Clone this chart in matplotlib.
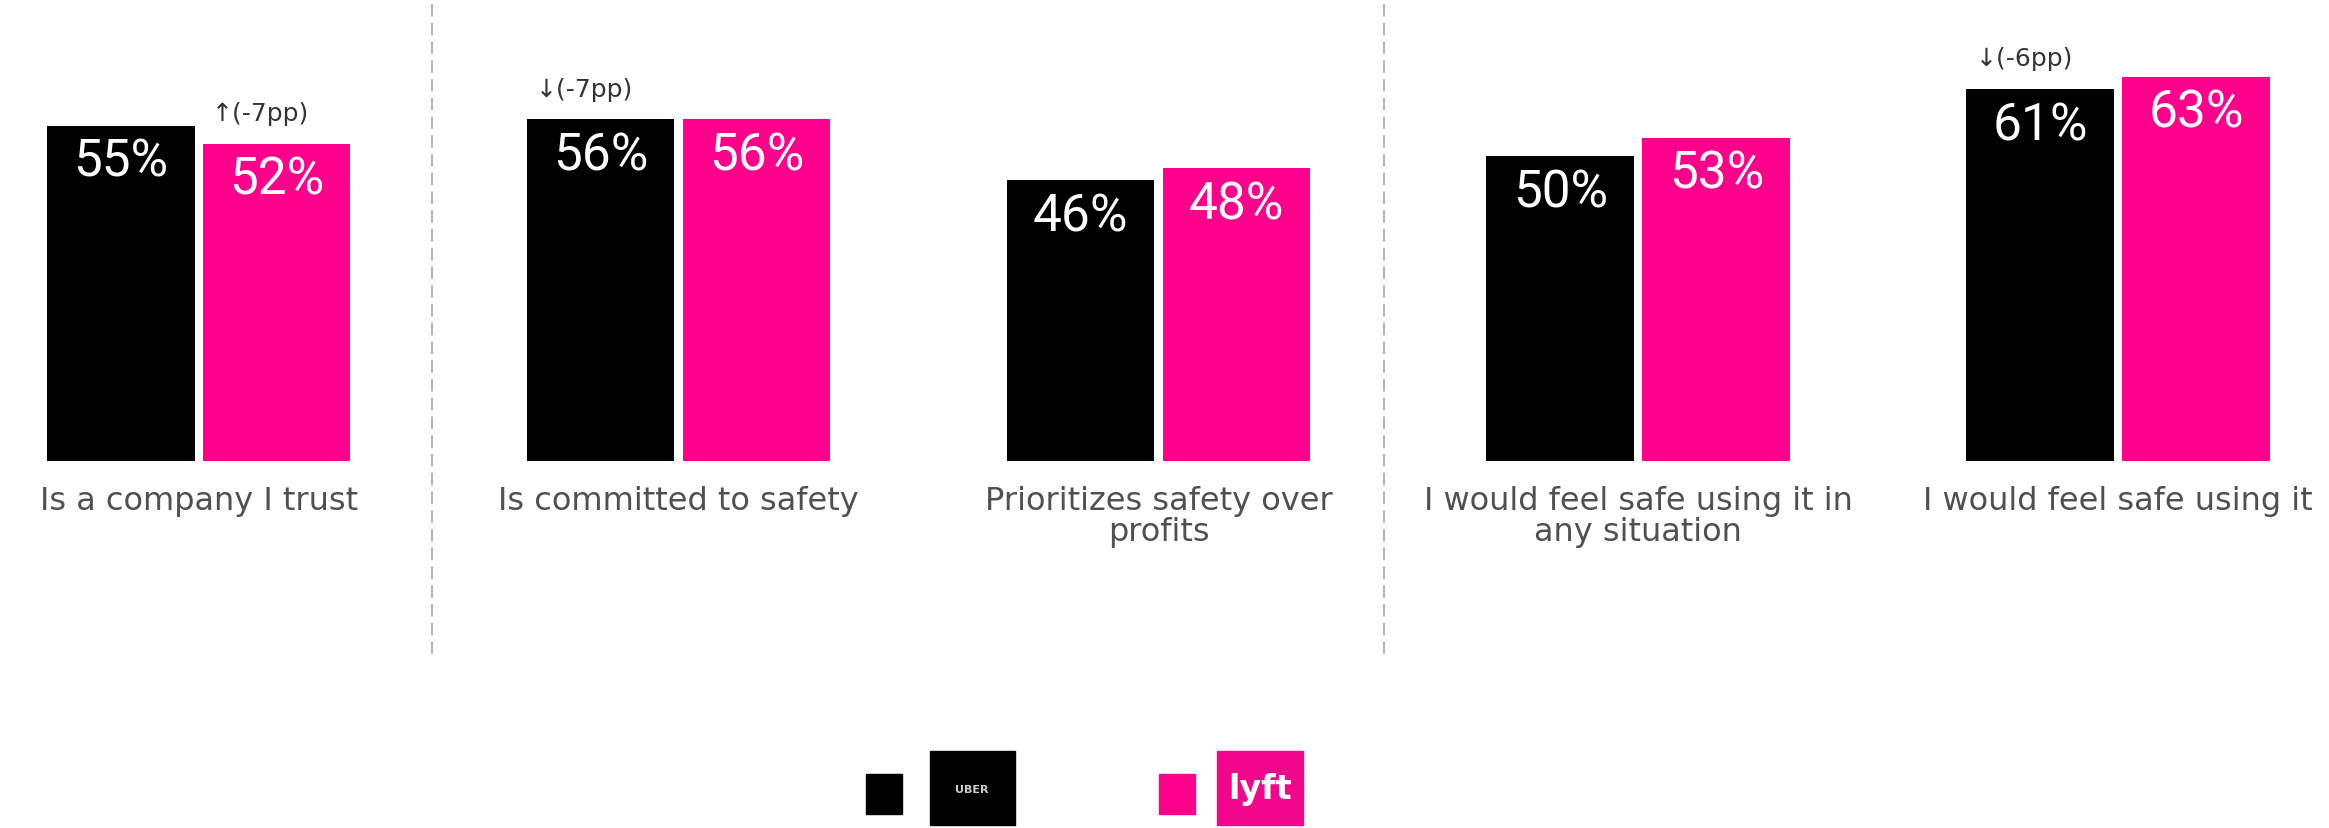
import matplotlib.pyplot as plt
from matplotlib.patches import Rectangle

# survey results, share of respondents agreeing (%)
categories = ["Is a company I trust", "Is committed to safety",
              "Prioritizes safety over\nprofits",
              "I would feel safe using it in\nany situation",
              "I would feel safe using it"]
uber = [55, 56, 46, 50, 61]
lyft = [52, 56, 48, 53, 63]

# change notes: (category index, brand, text)
notes = [(0, "lyft", "\u2191(-7pp)"),
         (1, "uber", "\u2193(-7pp)"),
         (4, "uber", "\u2193(-6pp)")]

UBER_COLOR = "#000000"
LYFT_COLOR = "#FF008C"
TEXT_GRAY = "#505050"

W, H = 2329, 829
fig = plt.figure(figsize=(W / 100, H / 100), dpi=100)
ax = fig.add_axes([0, (H - 462) / H, 1, 462 / H])
ax.set_xlim(-0.4138, 4.439)
ax.set_ylim(0, 462 / 6.1)
ax.axis("off")

bw = 0.308
off = 0.1625
xs = list(range(len(categories)))
bars_u = ax.bar([x - off for x in xs], uber, width=bw, color=UBER_COLOR)
bars_l = ax.bar([x + off for x in xs], lyft, width=bw, color=LYFT_COLOR)

for bars, vals in ((bars_u, uber), (bars_l, lyft)):
    for b, v in zip(bars, vals):
        ax.annotate(f"{v}%", (b.get_x() + b.get_width() / 2, v),
                    xytext=(0, -8), textcoords="offset points",
                    ha="center", va="top", color="white",
                    fontsize=37, family="Roboto")

for i, brand, txt in notes:
    b = bars_u[i] if brand == "uber" else bars_l[i]
    v = uber[i] if brand == "uber" else lyft[i]
    ax.text(b.get_x() + 0.02, v + 5, txt, ha="left", va="center",
            fontsize=18, color="#333333", family="DejaVu Sans")

for x, lab in zip(xs, categories):
    ax.text(x, -4.0, lab, ha="center", va="top", fontsize=23,
            color=TEXT_GRAY, linespacing=1.0, family="DejaVu Sans",
            clip_on=False)

# dashed separators between question groups
for sx in (0.487, 2.47):
    ax.plot([sx, sx], [-31.6, 76], ls=(0, (6, 3)), lw=1.5,
            color="#b5b5b5", clip_on=False)

# legend with brand badges, drawn in pixel space
lg = fig.add_axes([0, 0, 1, 1])
lg.set_xlim(0, W)
lg.set_ylim(H, 0)
lg.axis("off")
lg.add_patch(Rectangle((866, 775), 36, 40, color=UBER_COLOR))
lg.add_patch(Rectangle((930, 752), 85, 74, color=UBER_COLOR))
lg.text(972, 790, "UBER", color="#cccccc", fontsize=8, fontweight="bold",
        ha="center", va="center", family="DejaVu Sans")
lg.add_patch(Rectangle((1159, 775), 36, 40, color=LYFT_COLOR))
lg.add_patch(Rectangle((1217, 752), 86, 74, color="#F2068C"))
lg.text(1260, 790, "lyft", color="white", fontsize=24, fontweight="bold",
        ha="center", va="center", family="DejaVu Sans")

fig.savefig("out.png", dpi=100, facecolor="white")
